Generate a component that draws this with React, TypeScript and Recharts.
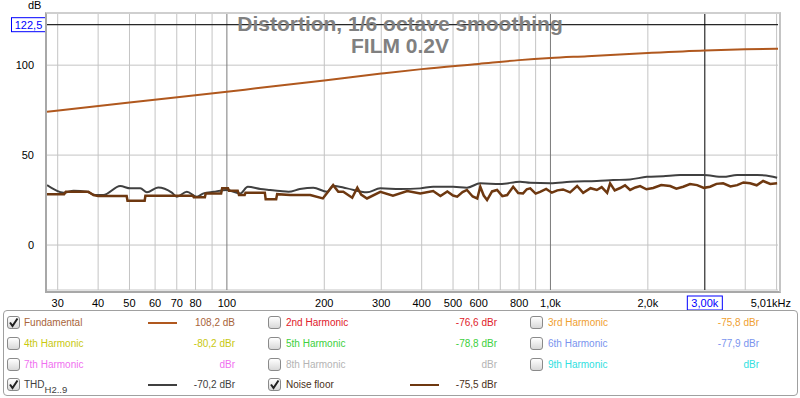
import React from "react";
import { LineChart, Line, XAxis, YAxis, CartesianGrid, ReferenceLine } from "recharts";

// ── Data ───────────────────────────────────────────────────────────────────────
const fundFreq = [27.8, 50, 100, 127, 200, 300, 400, 600, 800, 1000, 1300, 2000, 3000, 4000, 5050];
const fundDb   = [74.1, 79.3, 85.2, 87.4, 91.5, 95.3, 97.8, 100.7, 102.8, 104.0, 105.0, 106.8, 108.2, 108.8, 109.1];

const thdFreq = [27.8, 31.3, 33.6, 36.9, 39.2, 41.5, 46.8, 50.3, 54, 56.6, 61.3, 67.6, 70, 75.2, 80.8, 84.7, 90.9,
  100, 110, 116, 127, 136, 146, 155, 168, 185, 204, 213, 235, 271, 298, 343, 396, 434, 500, 552, 607, 699, 806, 866,
  1000, 1150, 1391, 1562, 1763, 1986, 2230, 2517, 2965, 3418, 3776, 4353, 4775, 5018];
const thdDb = [33.3, 29.1, 30.2, 29.6, 27.8, 27.8, 32.8, 31.5, 31.5, 29.3, 32.0, 29.1, 26.9, 29.6, 26.9, 28.7, 29.6,
  30.6, 28.7, 32.4, 31.2, 30.6, 30.0, 29.6, 31.1, 31.9, 29.6, 33.0, 31.5, 29.3, 31.5, 31.1, 31.5, 32.4, 32.4, 31.9, 34.3, 33.9, 35.2, 34.6,
  34.4, 35.2, 35.6, 36.1, 36.5, 37.9, 38.3, 38.9, 38.9, 37.9, 38.9, 38.9, 38.3, 37.4];

const noiseFreq = [27.8, 31.4, 31.8, 37.3, 38.7, 40, 49, 49.3, 55.7, 56, 78.5, 79, 85.5, 86, 96, 96.7, 100.8, 101.5,
  108, 109, 113.5, 114.2, 131, 131.8, 142, 143, 157, 181, 198, 213, 221, 229, 244, 253, 260, 271, 298, 326, 361, 396,
  434, 457, 480, 500, 515, 535, 552, 575, 594, 607, 622, 637, 660, 684, 710, 735, 767, 795, 823, 845, 866, 900, 929,
  970, 1010, 1050, 1094, 1150, 1209, 1262, 1330, 1391, 1440, 1497, 1529, 1580, 1642, 1700, 1763, 1830, 1893, 1980,
  2077, 2200, 2344, 2450, 2572, 2700, 2840, 2980, 3115, 3260, 3418, 3600, 3776, 3950, 4141, 4340, 4543, 4780, 5018];
const noiseDb = [28.3, 28.3, 29.6, 29.6, 27.8, 27.2, 27.2, 24.6, 24.6, 27.4, 27.4, 26.5, 26.5, 28.7, 28.7, 31.5, 31.5, 30.2,
  30.2, 27.8, 27.8, 29.1, 29.1, 25.4, 25.4, 28.3, 27.8, 27.8, 25.9, 33.3, 29.6, 29.6, 26.3, 31.9, 28.0, 25.9, 29.6, 27.4, 30.0, 28.7,
  30.0, 27.2, 29.8, 27.5, 26.9, 29.4, 30.6, 27.0, 25.9, 32.4, 27.5, 25.0, 29.8, 30.6, 27.2, 27.8, 32.4, 28.9, 28.7, 31.0, 31.5, 28.6, 29.6,
  31.2, 29.1, 30.4, 30.9, 29.3, 32.8, 29.0, 31.6, 30.6, 32.2, 29.0, 34.3, 30.4,
  31.7, 33.2, 30.6, 32.0, 32.8, 31.0, 31.7, 33.4, 32.8, 31.3, 32.4, 33.9, 33.3, 31.8, 32.4, 34.0, 34.3, 32.6, 33.3, 34.8, 34.3, 33.2,
  35.6, 34.0, 34.3];

const gridFreqs = [30, 40, 50, 60, 70, 80, 90, 100, 200, 300, 400, 500, 600, 700, 800, 900, 1000, 2000, 4000, 5000];
const xTickVals = [30, 40, 50, 60, 70, 80, 100, 200, 300, 400, 500, 600, 800, 1000, 2000, 3000, 5010];
const xTickText = ["30", "40", "50", "60", "70", "80", "100", "200", "300", "400", "500", "600", "800", "1,0k", "2,0k", "3,00k", "5,01kHz"];
const yTickVals = [0, 50, 100, 122.5];
const yTickText = ["0", "50", "100", "122,5"];

const legendNames   = ["Fundamental", "2nd Harmonic", "3rd Harmonic", "4th Harmonic", "5th Harmonic", "6th Harmonic", "7th Harmonic", "8th Harmonic", "9th Harmonic", "THD", "Noise floor"];
const legendValues  = ["108,2 dB", "-76,6 dBr", "-75,8 dBr", "-80,2 dBr", "-78,8 dBr", "-77,9 dBr", "dBr", "dBr", "dBr", "-70,2 dBr", "-75,5 dBr"];
const legendColors  = ["#a8643a", "#e0202a", "#f0a030", "#c8c810", "#40d040", "#7a94ee", "#f070f0", "#b4b4b4", "#30e0e0", "#404040", "#4a3020"];
const legendChecked = [true, false, false, false, false, false, false, false, false, true, true];

// ── Styles ─────────────────────────────────────────────────────────────────────
const FUND_COLOR  = "#b0581e";
const THD_COLOR   = "#404040";
const NOISE_COLOR = "#6e3810";
const FONT = '"Liberation Sans", Arial, sans-serif';

const zip = (fs: number[], vs: number[]) => fs.map((f, i) => ({ f, v: vs[i] }));
const fundData  = zip(fundFreq, fundDb);
const thdData   = zip(thdFreq, thdDb);
const noiseData = zip(noiseFreq, noiseDb);

function XTick(props: any) {
  const { x, y, payload } = props;
  const i = xTickVals.indexOf(payload.value);
  const txt = xTickText[i] ?? "";
  if (payload.value === 3000) {
    return (
      <g>
        <rect x={x - 17.5} y={y - 2} width={35} height={14} fill="#fff" stroke="#0000ff" strokeWidth={1} />
        <text x={x} y={y + 9} textAnchor="middle" fontSize={11} fill="#0000ff" fontFamily={FONT}>{txt}</text>
      </g>
    );
  }
  const dx = payload.value === 5010 ? -6 : 0;
  return (
    <text x={x + dx} y={y + 9} textAnchor="middle" fontSize={11} fill="#000" fontFamily={FONT}>{txt}</text>
  );
}

function YTick(props: any) {
  const { x, y, payload } = props;
  const i = yTickVals.indexOf(payload.value);
  const txt = yTickText[i] ?? "";
  if (payload.value === 122.5) {
    return (
      <g>
        <rect x={11.5} y={y - 7} width={34} height={14} fill="#fff" stroke="#0000ff" strokeWidth={1} />
        <text x={28.5} y={y + 4} textAnchor="middle" fontSize={11} fill="#0000ff" fontFamily={FONT}>{txt}</text>
      </g>
    );
  }
  return (
    <text x={x - 5} y={y + 4} textAnchor="end" fontSize={11} fill="#000" fontFamily={FONT}>{txt}</text>
  );
}

function CheckBox({ checked, left, top }: { checked: boolean; left: number; top: number }) {
  return (
    <div style={{
      position: "absolute", left, top, width: 11, height: 11, border: "1px solid #8a8a8a", borderRadius: 3,
      background: "linear-gradient(#ffffff, #d8d8d8)",
    }}>
      {checked && (
        <svg width={11} height={11} style={{ position: "absolute", left: 0, top: 0 }}>
          <path d="M2 5.5 L4.5 9 L9.5 1.5" stroke="#202020" strokeWidth={2} fill="none" />
        </svg>
      )}
    </div>
  );
}

const colCheck = [7, 268, 530];
const colLabel = [24, 286, 548];
const colLine  = [148, 410, 0];
const colValueRight = [235, 497, 759];
const rowCenter = [323, 344, 365, 385];
const lineColorByIdx: Record<number, string> = { 0: FUND_COLOR, 9: THD_COLOR, 10: NOISE_COLOR };

export default function App() {
  return (
    <div style={{ position: "absolute", left: 0, top: 0, width: 800, height: 398, background: "#fff", fontFamily: FONT, overflow: "hidden" }}>
      <LineChart width={800} height={330} margin={{ top: 13, right: 22, left: 0, bottom: 20 }}>
        <CartesianGrid vertical={false} stroke="#c4c4c4" strokeWidth={1} />
        <XAxis
          dataKey="f"
          type="number"
          scale="log"
          domain={[27.8, 5050]}
          allowDataOverflow
          ticks={xTickVals}
          tick={<XTick />}
          tickLine={false}
          axisLine={false}
          height={20}
          interval={0}
        />
        <YAxis
          type="number"
          domain={[-25, 129]}
          allowDataOverflow
          ticks={yTickVals}
          tick={<YTick />}
          tickLine={false}
          axisLine={false}
          width={47}
          interval={0}
        />
        {gridFreqs.map(f => (
          <ReferenceLine key={`g${f}`} x={f} stroke={f === 100 || f === 1000 ? "#7a7a7a" : "#c4c4c4"} strokeWidth={1} />
        ))}
        <ReferenceLine y={122.5} stroke="#000" strokeWidth={1} />
        <ReferenceLine x={3000} stroke="#000" strokeWidth={1} />
        <Line data={fundData} dataKey="v" type="monotone" stroke={FUND_COLOR} strokeWidth={2} dot={false} isAnimationActive={false} />
        <Line data={thdData} dataKey="v" type="monotone" stroke={THD_COLOR} strokeWidth={2} dot={false} isAnimationActive={false} />
        <Line data={noiseData} dataKey="v" type="linear" stroke={NOISE_COLOR} strokeWidth={2.5} dot={false} isAnimationActive={false} />
      </LineChart>

      {/* plot frame */}
      <div style={{
        position: "absolute", left: 45, top: 12, width: 732, height: 277,
        borderLeft: "2px solid #a8a8a8", borderBottom: "2px solid #a8a8a8",
        borderTop: "2px solid #cfcfcf", borderRight: "2px solid #c4c4c4", pointerEvents: "none",
      }} />

      {/* axis unit */}
      <div style={{ position: "absolute", left: 28, top: -1, fontSize: 11, color: "#000" }}>dB</div>

      {/* title */}
      <div style={{
        position: "absolute", left: 0, width: 800, top: 13, textAlign: "center",
        fontSize: 21, fontWeight: "bold", color: "#808080", lineHeight: "22px",
      }}>
        Distortion, 1/6 octave smoothing<br />FILM 0.2V
      </div>

      {/* legend */}
      <div style={{
        position: "absolute", left: 3, top: 310, width: 793, height: 84,
        border: "1px solid #a0a0a0", borderRadius: 4, background: "#fff",
      }} />
      {legendNames.map((name, i) => {
        const row = i === 9 || i === 10 ? 3 : Math.floor(i / 3);
        const col = i === 9 ? 0 : i === 10 ? 1 : i % 3;
        const cy = rowCenter[row];
        const color = legendColors[i];
        return (
          <React.Fragment key={name}>
            <CheckBox checked={legendChecked[i]} left={colCheck[col]} top={cy - 7} />
            <div style={{ position: "absolute", left: colLabel[col], top: cy - 7, fontSize: 10, color, whiteSpace: "nowrap", lineHeight: "13px" }}>
              {name === "THD" ? (<span>THD<span style={{ fontSize: 9.5, position: "relative", top: 5 }}>H2..9</span></span>) : name}
            </div>
            {legendChecked[i] && lineColorByIdx[i] && (
              <div style={{ position: "absolute", left: colLine[col], top: cy - 1, width: 29, height: 2, background: lineColorByIdx[i] }} />
            )}
            <div style={{
              position: "absolute", left: colValueRight[col] - 100, width: 100, top: cy - 7, textAlign: "right",
              fontSize: 10, color, whiteSpace: "nowrap", lineHeight: "13px",
            }}>
              {legendValues[i]}
            </div>
          </React.Fragment>
        );
      })}
    </div>
  );
}
